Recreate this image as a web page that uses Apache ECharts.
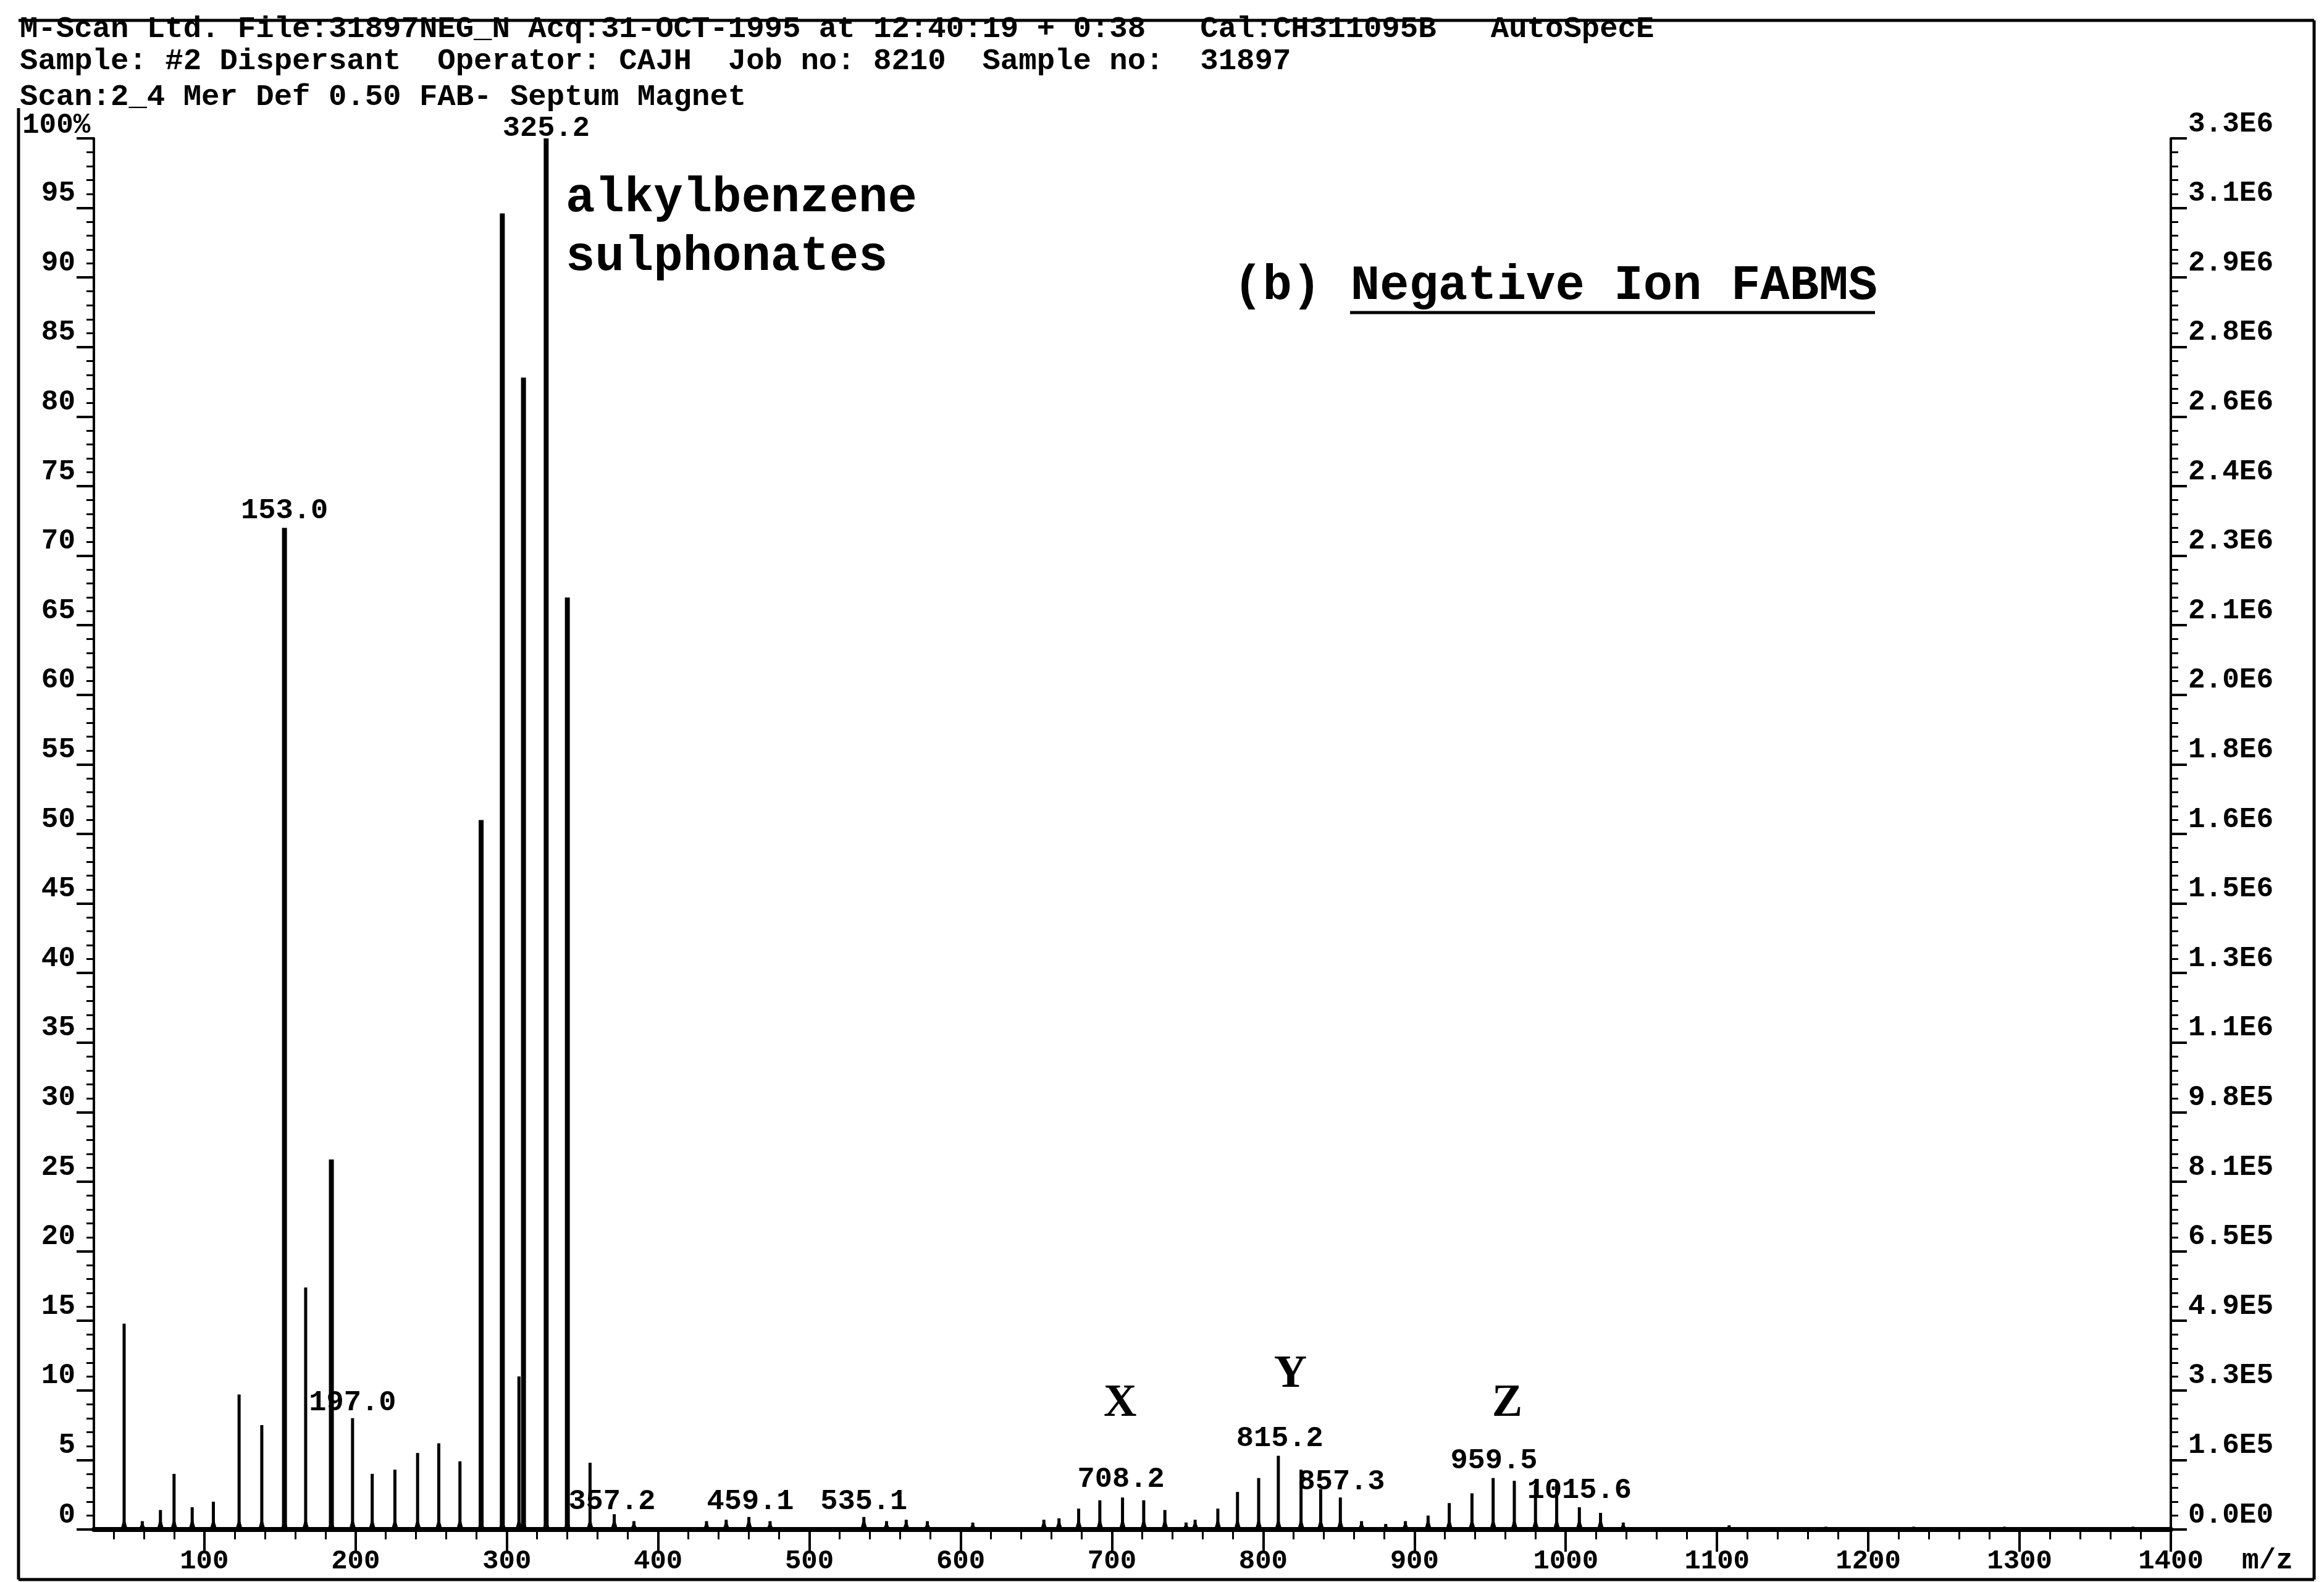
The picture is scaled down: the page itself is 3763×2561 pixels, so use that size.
<!DOCTYPE html>
<html>
<head>
<meta charset="utf-8">
<title>Negative Ion FABMS</title>
<script src="https://cdn.jsdelivr.net/npm/echarts@6/dist/echarts.min.js"></script>
<style>
html, body { margin: 0; padding: 0; background: #fff; }
#chart { width: 3763px; height: 2561px; }
</style>
</head>
<body>
<div id="chart"></div>
<script>
// peak list: m/z and relative intensity (%)
const PEAK_MZ = [
  47, 59, 71, 80, 92, 106, 123, 138, 153, 167, 184, 198, 211, 226, 241, 255, 269,
  283, 297, 308, 311, 326, 340, 355,
  371, 384, 432, 445, 460, 474, 536, 551, 564, 578, 608,
  655, 665, 678, 692, 707, 721, 735, 749, 755, 770, 783, 797, 810, 825, 838, 851,
  865, 881, 894, 909, 923, 938, 952, 966, 980, 994, 1009, 1023, 1038,
  1108, 1172, 1230, 1290, 1375
]
const PEAK_INT = [
  14.8, 0.6, 1.4, 4.0, 1.6, 2.0, 9.7, 7.5, 72.0, 17.4, 26.6, 8.0, 4.0, 4.3, 5.5, 6.2, 4.9,
  51.0, 94.6, 11.0, 82.8, 100, 67.0, 4.8,
  1.1, 0.6, 0.6, 0.7, 0.9, 0.6, 0.9, 0.6, 0.7, 0.6, 0.5,
  0.7, 0.8, 1.5, 2.1, 2.3, 2.1, 1.4, 0.5, 0.7, 1.5, 2.7, 3.7, 5.3, 4.3, 2.9, 2.3,
  0.6, 0.4, 0.6, 1.0, 1.9, 2.6, 3.7, 3.5, 3.2, 3.3, 1.6, 1.2, 0.5,
  0.3, 0.2, 0.2, 0.2, 0.2
]

// peak annotations (text, anchor m/z, anchor %)
const LABEL_TEXT = ['325.2', '153.0', '197.0', '357.2', '459.1', '535.1', '708.2', '815.2', '857.3', '959.5', '1015.6']
const LABEL_MZ = [326, 153, 198, 369.5, 461, 536, 706, 811, 851.7, 952.5, 1009]
const LABEL_INT = [100.7, 73.2, 9.1, 2.0, 2.0, 2.0, 3.6, 6.5, 3.4, 4.9, 2.8]

const GROUP_TEXT = ['X', 'Y', 'Z']
const GROUP_MZ = [705.4, 818, 961.3]
const GROUP_INT = [9.0, 11.1, 9.0]

const X_MIN = 27
const X_MAX = 1400
const X_TICKS = [100, 200, 300, 400, 500, 600, 700, 800, 900, 1000, 1100, 1200, 1300, 1400]
const LEFT_LABELS = ['0', '5', '10', '15', '20', '25', '30', '35', '40', '45', '50',
  '55', '60', '65', '70', '75', '80', '85', '90', '95', '']
const TOP_LEFT_LABEL = '100%'
const RIGHT_LABELS = ['0.0E0', '1.6E5', '3.3E5', '4.9E5', '6.5E5', '8.1E5', '9.8E5', '1.1E6',
  '1.3E6', '1.5E6', '1.6E6', '1.8E6', '2.0E6', '2.1E6', '2.3E6', '2.4E6', '2.6E6', '2.8E6',
  '2.9E6', '3.1E6', '3.3E6']

const HEADER = [
  'M-Scan Ltd. File:31897NEG_N Acq:31-OCT-1995 at 12:40:19 + 0:38   Cal:CH311095B   AutoSpecE',
  'Sample: #2 Dispersant  Operator: CAJH  Job no: 8210  Sample no:  31897',
  'Scan:2_4 Mer Def 0.50 FAB- Septum Magnet'
]

const MONO = "'Liberation Mono', 'DejaVu Sans Mono', monospace"
const SERIF = "'Liberation Serif', 'DejaVu Serif', serif"

const minorTicks = []
for (let v = 40; v < X_MAX; v += 20) {
  if (v % 100 !== 0) minorTicks.push(v)
}

const peakData = PEAK_MZ.map((mz, i) => [mz, PEAK_INT[i]])
const labelData = LABEL_MZ.map((mz, i) => [mz, LABEL_INT[i]])
const groupData = GROUP_MZ.map((mz, i) => [mz, GROUP_INT[i]])

const axisText = { fontFamily: MONO, fontWeight: 'bold', fontSize: 46, color: '#000' }

function renderPeak(params, api) {
  const mz = api.value(0)
  const h = api.value(1)
  const top = api.coord([mz, h])
  const base = api.coord([mz, 0])
  const l = api.coord([mz - 2.4, 0])
  const r = api.coord([mz + 2.4, 0])
  const hump = api.coord([mz, Math.min(h, 0.9)])
  return {
    type: 'group',
    children: [
      { type: 'polygon', shape: { points: [l, hump, r] }, style: { fill: '#000' } },
      {
        type: 'line',
        shape: { x1: base[0], y1: base[1], x2: top[0], y2: top[1] },
        style: { stroke: '#000', lineWidth: h > 20 ? 8 : 5 }
      }
    ]
  }
}

const headerGraphics = HEADER.map((line, i) => ({
  type: 'text',
  x: 32,
  y: [48, 100, 158][i],
  style: {
    text: line, fill: '#000', fontFamily: MONO, fontWeight: 'bold', fontSize: 49,
    textAlign: 'left', textVerticalAlign: 'middle'
  }
}))

const bigText = (text, x, y) => ({
  type: 'text', x, y,
  style: {
    text, fill: '#000', fontFamily: MONO, fontWeight: 'bold', fontSize: 79,
    textAlign: 'left', textVerticalAlign: 'middle'
  }
})

const frameLine = (x1, y1, x2, y2) => ({
  type: 'line',
  shape: { x1, y1, x2, y2 },
  style: { stroke: '#000', lineWidth: 5 }
})

const option = {
  animation: false,
  backgroundColor: '#fff',
  grid: { left: 152, right: 248, top: 224, bottom: 85, containLabel: false, outerBoundsMode: 'none' },
  xAxis: [
    {
      type: 'value', min: X_MIN, max: X_MAX, position: 'bottom',
      axisLine: { onZero: false, lineStyle: { color: '#000', width: 8 } },
      axisTick: { customValues: X_TICKS, length: 36, lineStyle: { color: '#000', width: 4 } },
      axisLabel: {
        customValues: X_TICKS, margin: 30, ...axisText, fontSize: 44,
        formatter: v => String(v)
      },
      splitLine: { show: false }
    },
    {
      type: 'value', min: X_MIN, max: X_MAX, position: 'bottom',
      axisLine: { show: false, onZero: false },
      axisTick: { customValues: minorTicks, length: 16, lineStyle: { color: '#000', width: 3 } },
      axisLabel: { show: false },
      splitLine: { show: false }
    }
  ],
  yAxis: [
    {
      type: 'value', min: 0, max: 100, interval: 5, position: 'left',
      axisLine: { show: true, onZero: false, lineStyle: { color: '#000', width: 4 } },
      axisTick: { show: true, length: 28, lineStyle: { color: '#000', width: 4 } },
      minorTick: { show: true, splitNumber: 5, length: 12, lineStyle: { color: '#000', width: 3 } },
      axisLabel: {
        ...axisText, margin: 30, verticalAlign: 'bottom',
        formatter: v => LEFT_LABELS[Math.round(v / 5)]
      },
      splitLine: { show: false }
    },
    {
      type: 'value', min: 0, max: 100, interval: 5, position: 'right',
      axisLine: { show: true, onZero: false, lineStyle: { color: '#000', width: 4 } },
      axisTick: { show: true, length: 26, lineStyle: { color: '#000', width: 4 } },
      minorTick: { show: true, splitNumber: 5, length: 12, lineStyle: { color: '#000', width: 3 } },
      axisLabel: {
        ...axisText, margin: 28, verticalAlign: 'bottom',
        formatter: v => RIGHT_LABELS[Math.round(v / 5)]
      },
      splitLine: { show: false }
    }
  ],
  series: [
    {
      type: 'custom',
      xAxisIndex: 0,
      yAxisIndex: 0,
      renderItem: renderPeak,
      encode: { x: 0, y: 1 },
      data: peakData,
      silent: true,
      z: 3
    },
    {
      type: 'scatter',
      xAxisIndex: 0,
      yAxisIndex: 0,
      symbolSize: 0,
      clip: false,
      silent: true,
      data: labelData,
      itemStyle: { color: '#000', opacity: 1 },
      label: {
        show: true, position: 'inside', ...axisText, fontSize: 47, opacity: 1,
        textBorderWidth: 0,
        formatter: p => LABEL_TEXT[p.dataIndex]
      },
      z: 5
    },
    {
      type: 'scatter',
      xAxisIndex: 0,
      yAxisIndex: 0,
      symbolSize: 0,
      clip: false,
      silent: true,
      data: groupData,
      itemStyle: { color: '#000', opacity: 1 },
      label: {
        show: true, position: 'inside', fontFamily: SERIF, fontWeight: 'bold',
        fontSize: 74, color: '#000', opacity: 1, textBorderWidth: 0,
        formatter: p => GROUP_TEXT[p.dataIndex]
      },
      z: 5
    }
  ],
  graphic: [
    frameLine(30, 33, 3747, 33),
    frameLine(3747, 33, 3747, 2557),
    frameLine(30, 2557, 3747, 2557),
    frameLine(30, 175, 30, 2557),
    ...headerGraphics,
    {
      type: 'text', x: 36, y: 226,
      style: {
        text: TOP_LEFT_LABEL, fill: '#000', fontFamily: MONO, fontWeight: 'bold', fontSize: 46,
        textAlign: 'left', textVerticalAlign: 'bottom'
      }
    },
    bigText('alkylbenzene', 916, 322),
    bigText('sulphonates', 916, 417),
    bigText('(b) Negative Ion FABMS', 1997, 464),
    { type: 'line', shape: { x1: 2186, y1: 506, x2: 3036, y2: 506 }, style: { stroke: '#000', lineWidth: 5 } },
    {
      type: 'text', x: 3630, y: 2527,
      style: {
        text: 'm/z', fill: '#000', fontFamily: MONO, fontWeight: 'bold', fontSize: 46,
        textAlign: 'left', textVerticalAlign: 'middle'
      }
    }
  ]
}

const chart = echarts.init(document.getElementById('chart'))
chart.setOption(option)
</script>
</body>
</html>
